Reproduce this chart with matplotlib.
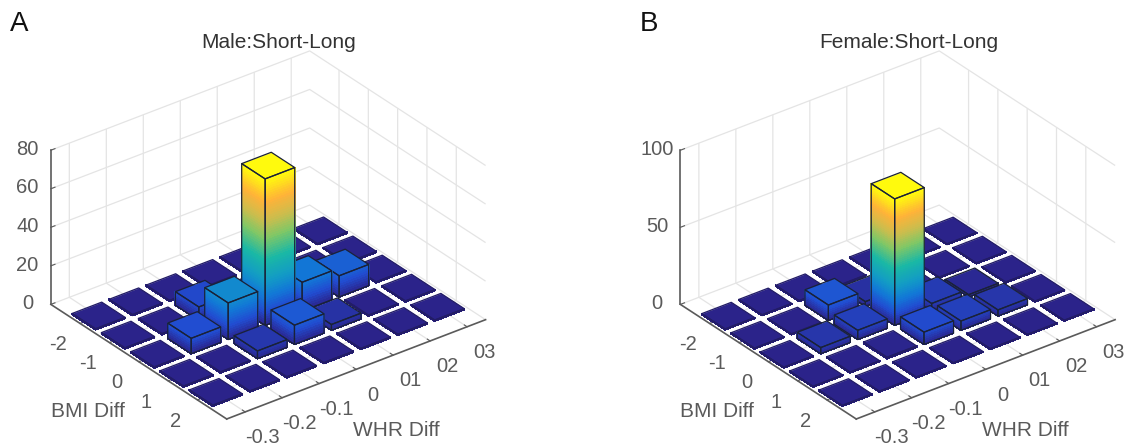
import numpy as np
import matplotlib
matplotlib.use("Agg")
import matplotlib.pyplot as plt
from matplotlib.colors import LinearSegmentedColormap
from mpl_toolkits.mplot3d.art3d import Poly3DCollection

plt.rcParams["font.family"] = ["Liberation Sans", "DejaVu Sans"]

whr_ticks = [-0.3, -0.2, -0.1, 0.0, 0.1, 0.2, 0.3]
whr_labels = ["-0.3", "-0.2", "-0.1", "0", "01", "02", "03"]
bmi_ticks = [-2, -1, 0, 1, 2]
bmi_labels = ["-2", "-1", "0", "1", "2"]

# rows are BMI Diff -2..2, columns are WHR Diff -0.3..0.3
male_counts = [
    [0.5, 0.5, 0.5, 0.5, 0.5, 0.5, 0.5],
    [0.5, 0.5, 7.0, 0.5, 0.5, 0.5, 0.5],
    [0.5, 8.0, 19.0, 76.0, 15.0, 11.0, 0.5],
    [0.5, 0.5, 4.0, 10.0, 3.0, 0.5, 0.5],
    [0.5, 0.5, 0.5, 0.5, 0.5, 0.5, 0.5],
]
female_counts = [
    [0.5, 0.5, 0.5, 0.5, 0.5, 0.5, 0.5],
    [0.5, 0.5, 10.0, 3.0, 0.5, 0.5, 0.5],
    [0.5, 4.0, 6.0, 82.0, 5.0, 1.5, 0.5],
    [0.5, 0.5, 0.9, 8.0, 6.0, 4.0, 0.5],
    [0.5, 0.5, 0.5, 0.5, 0.5, 0.5, 0.5],
]

parula = LinearSegmentedColormap.from_list("parula_like", [
    (0.00, (0.17, 0.13, 0.53)),
    (0.10, (0.13, 0.30, 0.82)),
    (0.20, (0.07, 0.47, 0.84)),
    (0.30, (0.07, 0.60, 0.78)),
    (0.45, (0.10, 0.72, 0.65)),
    (0.60, (0.50, 0.78, 0.40)),
    (0.72, (0.80, 0.74, 0.30)),
    (0.85, (1.00, 0.70, 0.22)),
    (1.00, (1.00, 0.98, 0.05)),
])

TXT = "#5a5a5a"
CLEAR = (0, 0, 0, 0)


def draw_bar(ax, x, y, h, hmax, order):
    dx, dy = 0.04, 0.4
    x0, x1, y0, y1 = x - dx, x + dx, y - dy, y + dy
    edges = np.linspace(0, h, max(2, int(60 * h / hmax) + 2))
    quads, cols = [], []
    for a, b in zip(edges[:-1], edges[1:]):
        c = parula((a + b) / 2 / hmax)
        quads.append([(x0, y0, a), (x0, y1, a), (x0, y1, b), (x0, y0, b)])
        cols.append(c)
        quads.append([(x0, y1, a), (x1, y1, a), (x1, y1, b), (x0, y1, b)])
        cols.append(c)
    ax.add_collection3d(Poly3DCollection(quads, facecolors=cols, edgecolors=cols, linewidths=0.6,
                                         antialiased=False, zorder=order))
    top = [(x0, y0, h), (x1, y0, h), (x1, y1, h), (x0, y1, h)]
    left = [(x0, y0, 0), (x0, y1, 0), (x0, y1, h), (x0, y0, h)]
    right = [(x0, y1, 0), (x1, y1, 0), (x1, y1, h), (x0, y1, h)]
    c = parula(h / hmax)
    ax.add_collection3d(Poly3DCollection([top], facecolors=[c], edgecolors=[c], linewidths=0.3, zorder=order + 0.1))
    # flat cells barely show an outline
    line = "#221c66" if h < 1 else "#1a2238"
    ax.add_collection3d(Poly3DCollection([left, right, top], facecolors=[CLEAR] * 3, edgecolors=[line] * 3,
                                         linewidths=0.9, zorder=order + 0.2))


def draw_panel(pos, counts, zticks, title, title_x, letter, letter_x):
    ax = fig.add_axes(pos, projection="3d", computed_zorder=False)
    ax.set_proj_type("ortho")
    ax.view_init(elev=30, azim=-127.5)
    ax.set_box_aspect((977, 865, 533), zoom=1.027)
    ax.set_xlim(-0.35, 0.35)
    ax.set_ylim(3, -3)
    ax.set_zlim(zticks[0], zticks[-1])

    counts = np.array(counts)
    hmax = counts.max()
    cells = [(i, j) for i in range(counts.shape[0]) for j in range(counts.shape[1])]
    # far cells first: high WHR and low BMI are at the back
    cells.sort(key=lambda c: -(whr_ticks[c[1]] * 10 * 0.609 - bmi_ticks[c[0]] * 0.793))
    for n, (i, j) in enumerate(cells):
        draw_bar(ax, whr_ticks[j], bmi_ticks[i], counts[i, j], hmax, 10 + n)

    ax.set_xticks(whr_ticks, whr_labels)
    ax.set_yticks(bmi_ticks, bmi_labels)
    ax.set_zticks(zticks)
    ax.tick_params(labelsize=14.5, colors=TXT, pad=1)
    ax.tick_params(axis="x", pad=8)
    ax.tick_params(axis="y", pad=6)
    for a in (ax.xaxis, ax.yaxis, ax.zaxis):
        for t in a.get_major_ticks():
            t.label1.set_va("center")
        a.set_pane_color((1, 1, 1, 0))
        a._axinfo["grid"].update(color="#e4e4e4", linewidth=0.9)
        a._axinfo["tick"].update(inward_factor=0.0, outward_factor=0.2)
        a.line.set_color(TXT)
        a.line.set_linewidth(1.2)
        a.set_rotate_label(False)
    ax.set_xlabel("WHR Diff", fontsize=15, color=TXT, rotation=0, labelpad=17)
    ax.set_ylabel("BMI Diff", fontsize=15, color=TXT, rotation=0, labelpad=12)
    ax.patch.set_alpha(0)
    fig.text(title_x, 0.892, title, ha="center", fontsize=15, color="#333333")
    fig.text(letter_x, 0.93, letter, fontsize=20, color="#111111")
    return ax


fig = plt.figure(figsize=(11.38, 4.45), dpi=100)
draw_panel([-0.0046, -0.0415, 0.47, 1.0], male_counts, [0, 20, 40, 60, 80], "Male:Short-Long", 0.2445, "A", 0.009)
draw_panel([0.5486, -0.0415, 0.47, 1.0], female_counts, [0, 50, 100], "Female:Short-Long", 0.799, "B", 0.5625)
fig.savefig("out.png", dpi=100)
